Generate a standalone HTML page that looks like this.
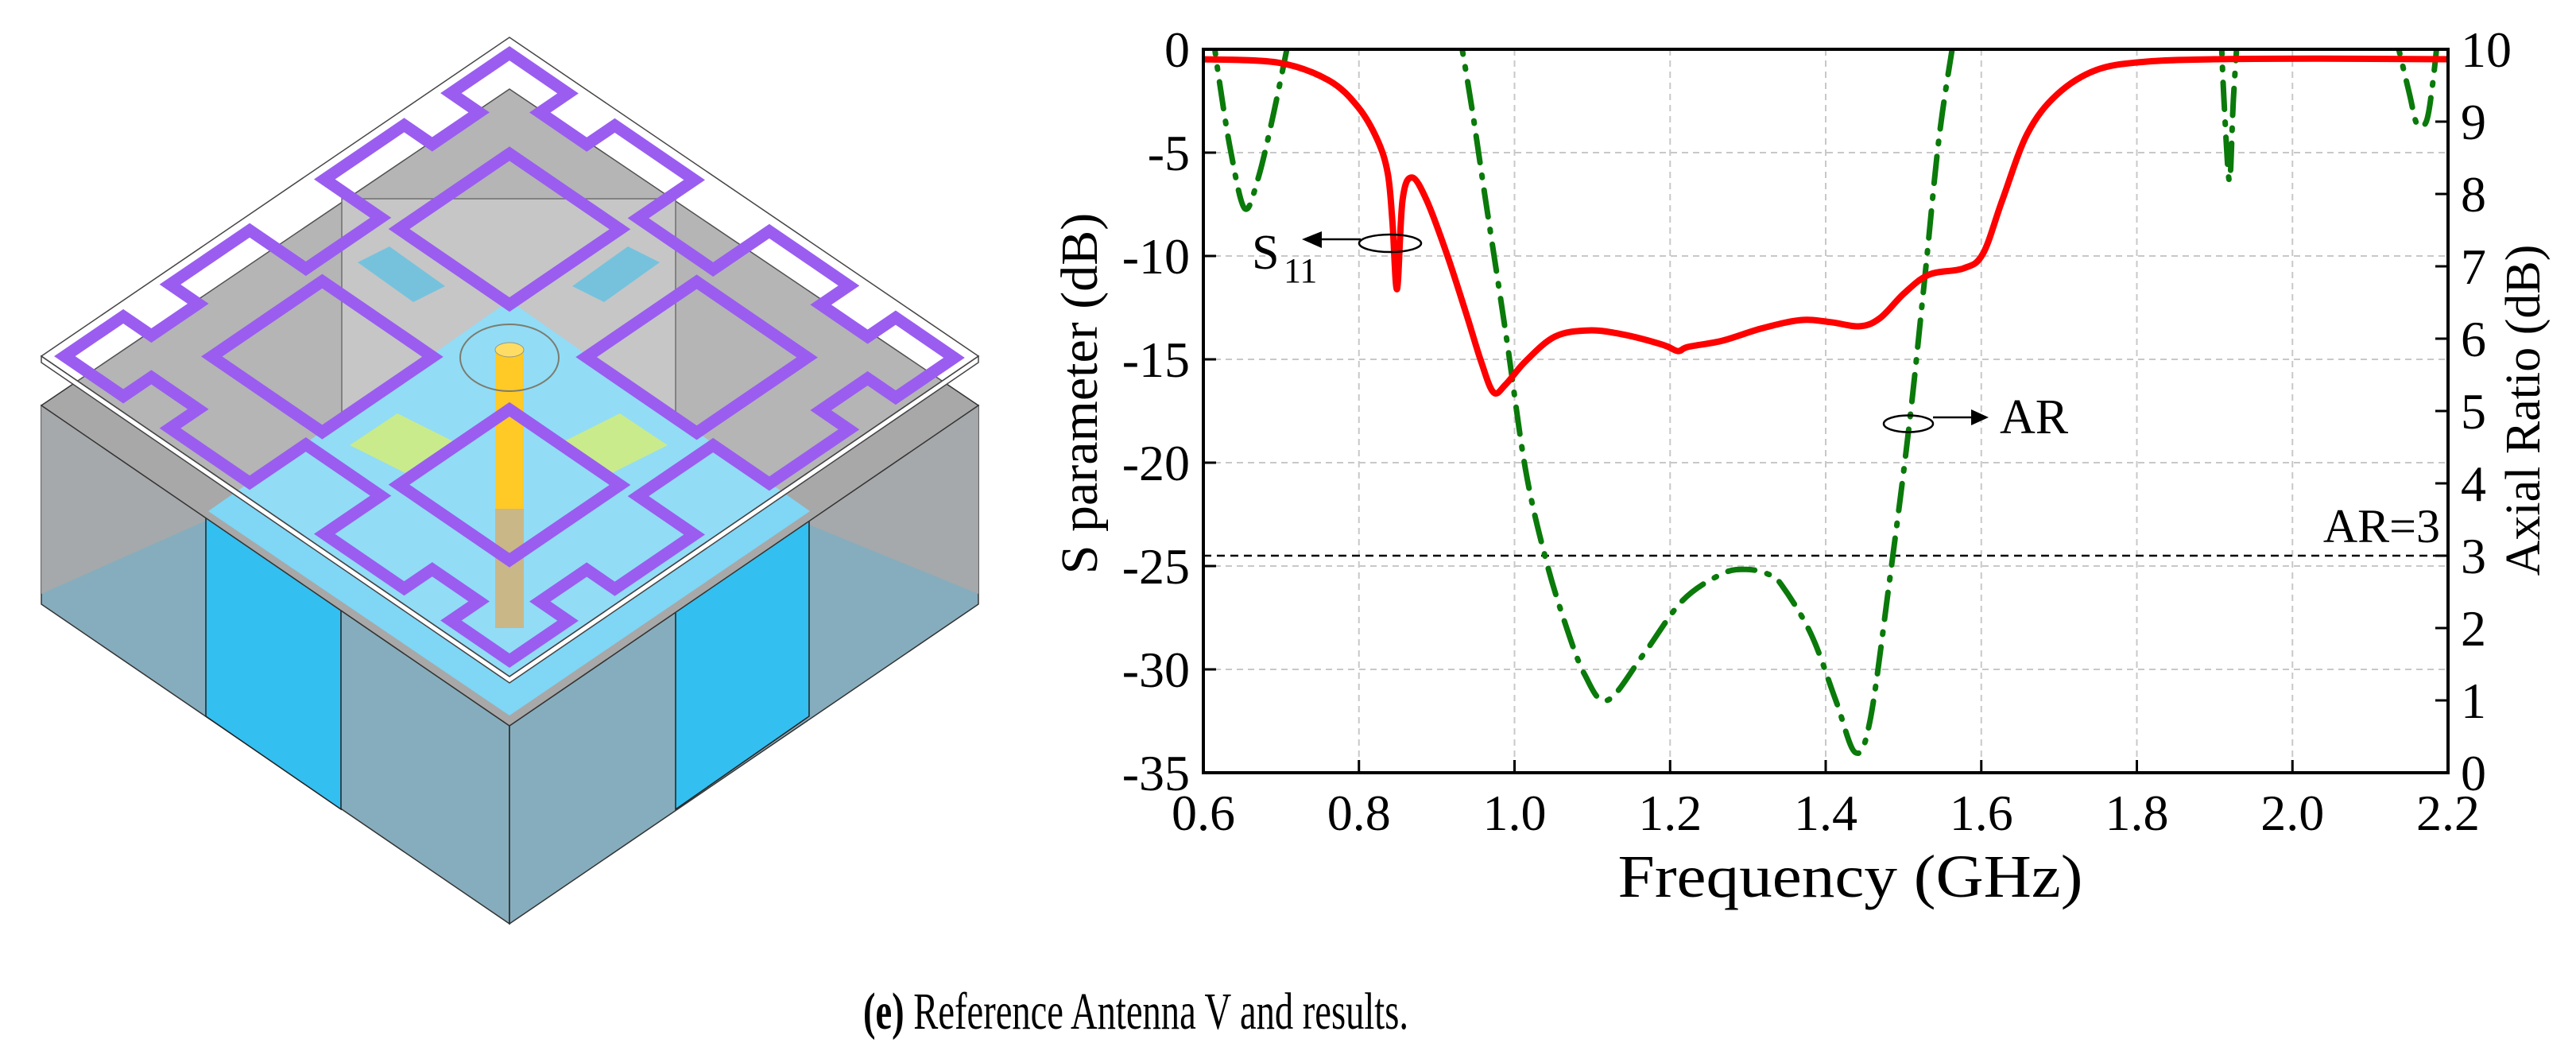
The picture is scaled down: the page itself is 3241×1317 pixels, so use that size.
<!DOCTYPE html>
<html><head><meta charset="utf-8"><style>
html,body{margin:0;padding:0;background:#fff;}
svg{display:block;}
text{font-family:"Liberation Serif",serif;fill:#000;}
</style></head><body>
<svg id="fig" width="3241" height="1317" viewBox="0 0 3241 1317" xmlns="http://www.w3.org/2000/svg">
<defs><clipPath id="plotclip"><rect x="1514" y="62" width="1566" height="910"/></clipPath></defs>
<g id="antenna">
  <polygon points="52,510 641,913 641,1162 52,760" fill="#86adbd" stroke="#333" stroke-width="1.5"/>
  <polygon points="1231,510 641,913 641,1162 1231,760" fill="#86adbd" stroke="#333" stroke-width="1.5"/>
  <polygon points="52,510 259,651 259,655 52,747" fill="#a9a9a9" opacity="0.9"/>
  <polygon points="1231,510 1018,655 1018,660 1231,747" fill="#a9a9a9" opacity="0.9"/>
  <polygon points="259,651 429,768 429,1018 259,901" fill="#33bff0" stroke="#222" stroke-width="1.5"/>
  <polygon points="1018,651 850,768 850,1018 1018,901" fill="#33bff0" stroke="#222" stroke-width="1.5"/>
  <line x1="641" y1="913" x2="641" y2="1162" stroke="#333" stroke-width="1.5"/>
  <polygon points="52,510 641,112 1231,510 641,913" fill="#a8a8a8" stroke="#333" stroke-width="1.5"/>
  <rect x="430" y="250" width="420" height="300" fill="#bcbcbc" stroke="#555" stroke-width="1.5"/>
  <polygon points="641,378 1019,643 641,900 262,643" fill="#7fd6f5"/>
  <polygon points="440,560 500,520 580,560 520,600" fill="#c0e878"/>
  <polygon points="840,560 780,520 700,560 760,600" fill="#c0e878"/>
  <polygon points="450,330 490,310 560,360 520,380" fill="#5fb8d8"/>
  <polygon points="830,330 790,310 720,360 760,380" fill="#5fb8d8"/>
  <rect x="623" y="440" width="36" height="200" fill="#ffc000"/>
  <rect x="623" y="640" width="36" height="150" fill="#c0ab74"/>
  <ellipse cx="641" cy="440" rx="18" ry="9" fill="#ffd84a" stroke="#886" stroke-width="1"/>
  <ellipse cx="641" cy="450" rx="62" ry="42" fill="none" stroke="#665" stroke-width="2"/>
  <polygon points="52,448 641,851 1231,448 1231,456 641,859 52,456" fill="#fff" stroke="#444" stroke-width="1.5"/>
  <polygon points="52,448 641,47 1231,448 641,851" fill="#ffffff" fill-opacity="0.15" stroke="#444" stroke-width="1.5"/>
  <g id="purple"></g>
</g>

<g id="chart">
  <g id="grid"></g>
  <line x1="1514" y1="699" x2="3080" y2="699" stroke="#000" stroke-width="2.5" stroke-dasharray="10,7"/>
  <g clip-path="url(#plotclip)">
    <path id="arPath" fill="none" stroke="#0a7a0a" stroke-width="7" stroke-dasharray="34,16,3,16" stroke-linecap="round"/>
    <path id="s11Path" fill="none" stroke="#ff0000" stroke-width="8" stroke-linejoin="round"/>
  </g>
  <rect x="1514" y="62" width="1566" height="910" fill="none" stroke="#000" stroke-width="4"/>
  <g id="ticks"></g>
  <text x="3070" y="682" font-size="60" text-anchor="end">AR=3</text>
  <text x="2328" y="1128" font-size="76" text-anchor="middle" textLength="585" lengthAdjust="spacingAndGlyphs">Frequency (GHz)</text>
  <text transform="translate(1380,495) rotate(-90)" font-size="66" text-anchor="middle">S parameter (dB)</text>
  <text transform="translate(3195,516) rotate(-90)" font-size="62" text-anchor="middle">Axial Ratio (dB)</text>
  <g>
    <ellipse cx="1749" cy="306" rx="39" ry="11" fill="none" stroke="#000" stroke-width="2.5"/>
    <line x1="1712" y1="301" x2="1655" y2="301" stroke="#000" stroke-width="2.5"/>
    <polygon points="1638,301 1663,291 1663,312" fill="#000"/>
    <text x="1575" y="338" font-size="62">S</text>
    <text x="1615" y="355" font-size="44">11</text>
  </g>
  <g>
    <ellipse cx="2401" cy="533" rx="31" ry="10.5" fill="none" stroke="#000" stroke-width="2.5"/>
    <line x1="2432" y1="525" x2="2485" y2="525" stroke="#000" stroke-width="2.5"/>
    <polygon points="2502,525 2480,515 2480,535" fill="#000"/>
    <text x="2516" y="545" font-size="62">AR</text>
  </g>
</g>
<text x="1086" y="1294" font-size="66" textLength="686" lengthAdjust="spacingAndGlyphs"><tspan font-weight="bold">(e)</tspan> Reference Antenna V and results.</text>
</svg>
<script>
const xTicks = [0.6, 0.8, 1.0, 1.2, 1.4, 1.6, 1.8, 2.0, 2.2];
const xTickLabels = ["0.6","0.8","1.0","1.2","1.4","1.6","1.8","2.0","2.2"];
const yTicks = [0, -5, -10, -15, -20, -25, -30, -35];
const yTickLabels = ["0","-5","-10","-15","-20","-25","-30","-35"];
const arTicks = [0,1,2,3,4,5,6,7,8,9,10];
const arTickLabels = ["0","1","2","3","4","5","6","7","8","9","10"];
const s11Freq = [0.6,0.697,0.761,0.799,0.824,0.837,0.843,0.849,0.856,0.868,0.887,0.913,0.938,0.957,0.973,0.989,1.014,1.052,1.096,1.140,1.191,1.210,1.223,1.267,1.318,1.368,1.406,1.444,1.470,1.501,1.533,1.577,1.602,1.627,1.659,1.697,1.748,1.811,1.900,2.026,2.2];
const s11Val = [-0.48,-0.65,-1.5,-2.8,-4.4,-6.0,-8.3,-11.6,-7.3,-6.2,-7.3,-9.9,-12.8,-15.1,-16.6,-16.2,-15.1,-13.9,-13.6,-13.8,-14.3,-14.6,-14.4,-14.1,-13.5,-13.1,-13.2,-13.4,-13.0,-11.8,-10.9,-10.6,-9.9,-7.3,-4.1,-2.2,-1.0,-0.6,-0.48,-0.45,-0.48];
const arFreq = [0.611,0.62,0.635,0.653,0.67,0.69,0.713,null,0.928,0.945,0.963,0.989,1.014,1.039,1.064,1.09,1.119,1.166,1.216,1.267,1.298,1.325,1.343,1.381,1.413,1.438,1.457,1.482,1.507,1.527,1.546,1.567,null,1.908,1.912,1.919,1.924,1.930,null,2.130,2.150,2.160,2.172,2.180,2.188];
const arVal = [10.3,9.6,8.6,7.8,8.2,9.1,10.3,null,10.3,9.2,7.9,6.06,4.2,3.0,2.1,1.36,1.0,1.64,2.38,2.75,2.81,2.75,2.6,1.92,1.0,0.28,0.72,2.65,4.77,6.8,8.8,10.3,null,10.3,9.3,8.18,9.3,10.3,null,10.3,9.4,8.97,9.0,9.5,10.3];

const X0=1514,X1=3080,Y0=62,Y1=972;
function xs(f){return X0+(f-0.6)/1.6*(X1-X0);}
function ys(d){return Y0+(-d)/35*(Y1-Y0);}
function yar(a){return Y1-a/10*(Y1-Y0);}
const NS='http://www.w3.org/2000/svg';
function mk(tag,attrs,parent){const e=document.createElementNS(NS,tag);for(const k in attrs)e.setAttribute(k,attrs[k]);parent.appendChild(e);return e;}
function smooth(pts){
  if(pts.length<2)return '';
  let d='M'+pts[0][0].toFixed(1)+','+pts[0][1].toFixed(1);
  for(let i=0;i<pts.length-1;i++){
    const p0=pts[i-1]||pts[i],p1=pts[i],p2=pts[i+1],p3=pts[i+2]||p2;
    const c1=[p1[0]+(p2[0]-p0[0])/6,p1[1]+(p2[1]-p0[1])/6];
    const c2=[p2[0]-(p3[0]-p1[0])/6,p2[1]-(p3[1]-p1[1])/6];
    d+='C'+c1[0].toFixed(1)+','+c1[1].toFixed(1)+' '+c2[0].toFixed(1)+','+c2[1].toFixed(1)+' '+p2[0].toFixed(1)+','+p2[1].toFixed(1);
  }
  return d;
}

const grid=document.getElementById('grid'), ticks=document.getElementById('ticks');
xTicks.forEach((t,i)=>{
  const x=xs(t);
  if(i>0&&i<xTicks.length-1){const g=mk('line',{x1:x,y1:Y0,x2:x,y2:Y1,stroke:'#c8c8c8','stroke-width':2,'stroke-dasharray':'8,6'},grid);
    
    }
  const tk=mk('line',{x1:x,y1:Y1,x2:x,y2:Y1-16,stroke:'#000','stroke-width':3},ticks);
  
  
  const lb=mk('text',{x:x,y:1044,'font-size':64,'text-anchor':'middle'},ticks);
  lb.textContent=xTickLabels[i];
  
  
});
yTicks.forEach((t,i)=>{
  const y=ys(t);
  if(i>0&&i<yTicks.length-1){const g=mk('line',{x1:X0,y1:y,x2:X1,y2:y,stroke:'#c8c8c8','stroke-width':2,'stroke-dasharray':'8,6'},grid);
    
    }
  const tk=mk('line',{x1:X0,y1:y,x2:X0+16,y2:y,stroke:'#000','stroke-width':3},ticks);
  
  
  const lb=mk('text',{x:1497,y:y+22,'font-size':64,'text-anchor':'end'},ticks);
  lb.textContent=yTickLabels[i];
  
  
});
arTicks.forEach((t,i)=>{
  const y=yar(t);
  const tk=mk('line',{x1:X1,y1:y,x2:X1-16,y2:y,stroke:'#000','stroke-width':3},ticks);
  
  
  const lb=mk('text',{x:3096,y:y+22,'font-size':64,'text-anchor':'start'},ticks);
  lb.textContent=arTickLabels[i];
  
  
});
const sPts=s11Freq.map((f,i)=>[xs(f),ys(s11Val[i])]);
document.getElementById('s11Path').setAttribute('d',smooth(sPts));
let d2='',seg=[];
arFreq.forEach((f,i)=>{
  if(f===null||arVal[i]===null){d2+=smooth(seg);seg=[];return;}
  seg.push([xs(f),yar(arVal[i])]);
});
d2+=smooth(seg);
document.getElementById('arPath').setAttribute('d',d2);

const L=[52,448],T=[641,47],B=[641,851];
function P(u,v){return [L[0]+u*(T[0]-L[0])+v*(B[0]-L[0]), L[1]+u*(T[1]-L[1])+v*(B[1]-L[1])];}
const pg=document.getElementById('purple');
function poly(uv,name){
  const pts=uv.map(p=>P(p[0],p[1]).map(n=>n.toFixed(1)).join(',')).join(' ');
  const e=mk('polygon',{points:pts,fill:'none',stroke:'#9a5df0','stroke-width':15,'stroke-linejoin':'miter'},pg);
  
  
}
[[0.3,0.3],[0.7,0.3],[0.3,0.7],[0.7,0.7]].forEach(c=>{
  const h=0.118;
  poly([[c[0]-h,c[1]-h],[c[0]+h,c[1]-h],[c[0]+h,c[1]+h],[c[0]-h,c[1]+h]],'ring-patch');
});
const a=0.025,n1=0.15,n2=0.25,m1=0.42,m2=0.58,dp=0.12,dq=0.06;
const outer=[];
outer.push([a,a],[n1,a],[n1,a+dq],[n2,a+dq],[n2,a],[m1,a],[m1,a+dp],[m2,a+dp],[m2,a],[1-n2,a],[1-n2,a+dq],[1-n1,a+dq],[1-n1,a],[1-a,a]);
outer.push([1-a,n1],[1-a-dq,n1],[1-a-dq,n2],[1-a,n2],[1-a,m1],[1-a-dp,m1],[1-a-dp,m2],[1-a,m2],[1-a,1-n2],[1-a-dq,1-n2],[1-a-dq,1-n1],[1-a,1-n1],[1-a,1-a]);
outer.push([1-n1,1-a],[1-n1,1-a-dq],[1-n2,1-a-dq],[1-n2,1-a],[m2,1-a],[m2,1-a-dp],[m1,1-a-dp],[m1,1-a],[n2,1-a],[n2,1-a-dq],[n1,1-a-dq],[n1,1-a],[a,1-a]);
outer.push([a,1-n1],[a+dq,1-n1],[a+dq,1-n2],[a,1-n2],[a,m2],[a+dp,m2],[a+dp,m1],[a,m1],[a,n2],[a+dq,n2],[a+dq,n1],[a,n1]);
poly(outer,'outer-meander-frame');
</script>
</body></html>
